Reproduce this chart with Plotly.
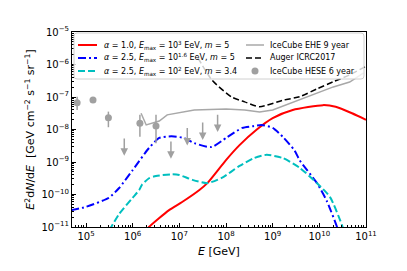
import numpy as np
import plotly.graph_objects as go

# ---- data (log10 E [GeV], log10 E^2 dN/dE) ----
red_logE = [6.30, 6.35, 6.78, 7.06, 7.43, 7.60, 8.00, 8.29, 8.66, 9.00, 9.43, 10.08, 10.35, 10.70, 11.00]
red_logF = [-11.1, -11.0, -10.48, -10.23, -9.86, -9.65, -8.94, -8.48, -8.00, -7.65, -7.40, -7.25, -7.30, -7.50, -7.70]

blue_logE = [4.68, 5.00, 5.49, 5.71, 6.00, 6.35, 6.57, 6.83, 7.10, 7.32, 7.69, 8.03, 8.35, 8.57, 8.76, 9.00, 9.22, 9.47, 9.58, 9.95, 10.16, 10.38, 10.45]
blue_logF = [-10.48, -10.38, -10.10, -9.80, -9.25, -8.57, -8.26, -8.21, -8.26, -8.42, -8.54, -8.23, -7.95, -7.90, -7.86, -7.95, -8.23, -8.65, -8.95, -9.65, -10.20, -11.00, -11.3]

cyan_logE = [5.50, 5.54, 5.71, 6.00, 6.14, 6.20, 6.35, 6.50, 6.85, 7.00, 7.28, 7.60, 7.92, 8.29, 8.60, 8.87, 9.22, 9.58, 9.95, 10.23, 10.50, 10.56]
cyan_logF = [-11.1, -11.0, -10.60, -10.10, -9.86, -9.70, -9.50, -9.43, -9.38, -9.40, -9.55, -9.65, -9.48, -9.12, -8.88, -8.78, -8.88, -9.18, -9.65, -10.08, -11.00, -11.3]

ehe_logE = [6.18, 6.29, 6.57, 6.74, 7.32, 7.75, 8.00, 8.40, 8.72, 9.00, 9.22, 9.58, 9.95, 10.30, 10.65, 10.95]
ehe_logF = [-7.50, -7.86, -7.74, -7.55, -7.40, -7.37, -7.37, -7.40, -7.46, -7.40, -7.28, -7.10, -6.88, -6.69, -6.54, -6.26]

auger_logE = [7.40, 7.70, 8.12, 8.40, 8.72, 9.22, 9.58, 9.95, 10.30, 10.65, 10.98]
auger_logF = [-5.80, -6.48, -7.00, -7.15, -7.30, -7.10, -6.99, -6.75, -6.53, -6.32, -6.07]

hese_logE = [4.81, 5.15, 5.48, 6.155, 6.50]
hese_logF = [-7.18, -7.09, -7.64, -7.81, -7.89]
hese_logHi = [-6.99, -7.05, -7.45, -7.55, -7.55]
hese_logLo = [-7.40, -7.13, -7.93, -8.22, -8.42]

ul_logE = [5.82, 6.82, 7.17, 7.50, 7.82]
ul_logF = [-8.23, -8.32, -7.91, -7.74, -7.50]
ul_len = 0.58  # decades, arrow length

labels = [
    "<i>α</i> = 1.0, <i>E</i><sub>max</sub> = 10<sup>3</sup> EeV, <i>m</i> = 5",
    "<i>α</i> = 2.5, <i>E</i><sub>max</sub> = 10<sup>1.6</sup> EeV, <i>m</i> = 5",
    "<i>α</i> = 2.5, <i>E</i><sub>max</sub> = 10<sup>2</sup> EeV, <i>m</i> = 3.4",
    "IceCube EHE 9 year",
    "Auger ICRC2017",
    "IceCube HESE 6 year",
]

xtick_exp = list(range(5, 12))
ytick_exp = list(range(-11, -4))

# ---- styles ----
FONT = "DejaVu Sans"
RED, BLUE, CYAN, GRAY, PTGRAY = "#ff0000", "#0000ff", "#00bfbf", "#a8a8a8", "#a0a0a0"
DASHDOT = "8px,3px,2px,3px"
DASH = "7px,3px"
ADASH = "6px,3px"

W, H = 407, 271
L, R, T, B = 72, 366, 32, 227


def p(v):
    return [10 ** x for x in v]


fig = go.Figure()
fig.add_trace(go.Scatter(x=p(ehe_logE), y=p(ehe_logF), mode="lines",
                         line=dict(color=GRAY, width=1.5), showlegend=False))
fig.add_trace(go.Scatter(x=p(auger_logE), y=p(auger_logF), mode="lines",
                         line=dict(color="black", width=1.5, dash=ADASH, shape="spline", smoothing=0.6),
                         showlegend=False))
fig.add_trace(go.Scatter(x=p(red_logE), y=p(red_logF), mode="lines",
                         line=dict(color=RED, width=2, shape="spline", smoothing=0.6), showlegend=False))
fig.add_trace(go.Scatter(x=p(blue_logE), y=p(blue_logF), mode="lines",
                         line=dict(color=BLUE, width=2, dash=DASHDOT, shape="spline", smoothing=0.6),
                         showlegend=False))
fig.add_trace(go.Scatter(x=p(cyan_logE), y=p(cyan_logF), mode="lines",
                         line=dict(color=CYAN, width=2, dash=DASH, shape="spline", smoothing=0.6),
                         showlegend=False))

hy = np.array(p(hese_logF))
fig.add_trace(go.Scatter(
    x=p(hese_logE), y=hy, mode="markers",
    marker=dict(color=PTGRAY, size=7),
    error_y=dict(type="data", symmetric=False,
                 array=list(np.array(p(hese_logHi)) - hy),
                 arrayminus=list(hy - np.array(p(hese_logLo))),
                 color=PTGRAY, thickness=1.5, width=0),
    showlegend=False))

# upper limits as arrows (log axes: annotation coordinates in log10)
for xe, yf in zip(ul_logE, ul_logF):
    fig.add_annotation(x=xe, y=yf - ul_len, ax=xe, ay=yf, xref="x", yref="y",
                       axref="x", ayref="y", text="", showarrow=True,
                       arrowhead=2, arrowsize=1, arrowwidth=1.5, arrowcolor=PTGRAY)

# ---- manual legend box ----
def px_x(v):
    return (v - L) / (R - L)


def px_y(v):
    return (B - v) / (B - T)


# rounded legend frame
bx0, bx1, by0, by1, rr = 74, 364, 33, 79, 3
path = (f"M {px_x(bx0 + rr)},{px_y(by0)} L {px_x(bx1 - rr)},{px_y(by0)} "
        f"Q {px_x(bx1)},{px_y(by0)} {px_x(bx1)},{px_y(by0 + rr)} "
        f"L {px_x(bx1)},{px_y(by1 - rr)} Q {px_x(bx1)},{px_y(by1)} {px_x(bx1 - rr)},{px_y(by1)} "
        f"L {px_x(bx0 + rr)},{px_y(by1)} Q {px_x(bx0)},{px_y(by1)} {px_x(bx0)},{px_y(by1 - rr)} "
        f"L {px_x(bx0)},{px_y(by0 + rr)} Q {px_x(bx0)},{px_y(by0)} {px_x(bx0 + rr)},{px_y(by0)} Z")
fig.add_shape(type="path", xref="paper", yref="paper", path=path,
              fillcolor="rgba(255,255,255,0.8)", line=dict(color="#d0d0d0", width=1), layer="above")

rows = [45, 58, 71]
left_styles = [dict(color=RED, width=2), dict(color=BLUE, width=2, dash=DASHDOT), dict(color=CYAN, width=2, dash=DASH)]
for yy, st, lab in zip(rows, left_styles, labels[:3]):
    fig.add_shape(type="line", xref="paper", yref="paper", x0=px_x(78), x1=px_x(97),
                  y0=px_y(yy), y1=px_y(yy), line=st, layer="above")
    fig.add_annotation(x=px_x(102), y=px_y(yy), xref="paper", yref="paper", text=lab,
                       showarrow=False, xanchor="left", yanchor="middle",
                       font=dict(family=FONT, size=8, color="black"))

right_styles = [dict(color=GRAY, width=1.5), dict(color="black", width=1.5, dash=ADASH)]
for yy, st in zip(rows[:2], right_styles):
    fig.add_shape(type="line", xref="paper", yref="paper", x0=px_x(246), x1=px_x(264),
                  y0=px_y(yy), y1=px_y(yy), line=st, layer="above")
fig.add_shape(type="circle", xref="paper", yref="paper",
              x0=px_x(251.5), x1=px_x(258.5), y0=px_y(74.5), y1=px_y(67.5),
              fillcolor=PTGRAY, line=dict(color=PTGRAY, width=0), layer="above")
for yy, lab in zip(rows, labels[3:]):
    fig.add_annotation(x=px_x(268), y=px_y(yy), xref="paper", yref="paper", text=lab,
                       showarrow=False, xanchor="left", yanchor="middle",
                       font=dict(family=FONT, size=8, color="black"))

axis_common = dict(type="log", showgrid=False, zeroline=False, showline=True, linecolor="black",
                   linewidth=1, mirror=True, ticks="inside", ticklen=4, tickcolor="black",
                   exponentformat="power", tickfont=dict(family=FONT, size=10, color="black"),
                   minor=dict(ticks="inside", ticklen=2, tickcolor="black", dtick="D1", showgrid=False))

fig.update_xaxes(**axis_common, range=[4.7, 11],
                 tickmode="array",
                 tickvals=[10 ** e for e in xtick_exp],
                 ticktext=[f"10<sup>{e}</sup>" for e in xtick_exp],
                 title=dict(text="<i>E</i> [GeV]", font=dict(family=FONT, size=11, color="black"), standoff=6))
fig.update_yaxes(**axis_common, range=[-11, -5],
                 tickmode="array",
                 tickvals=[10 ** e for e in ytick_exp],
                 ticktext=[f"10<sup>−{-e}</sup>" for e in ytick_exp],
                 title=dict(text="<i>E</i><sup>2</sup>d<i>N</i>/d<i>E</i>  [GeV cm<sup>−2</sup> s<sup>−1</sup> sr<sup>−1</sup>]",
                            font=dict(family=FONT, size=11, color="black"), standoff=4))

fig.update_layout(width=W, height=H, margin=dict(l=L, r=W - R, t=T, b=H - B, autoexpand=False),
                  plot_bgcolor="white", paper_bgcolor="white", font=dict(family=FONT))

fig.write_html("out.html", config={"displayModeBar": False},
               post_script="document.body.style.margin='0';document.body.style.padding='0';")
